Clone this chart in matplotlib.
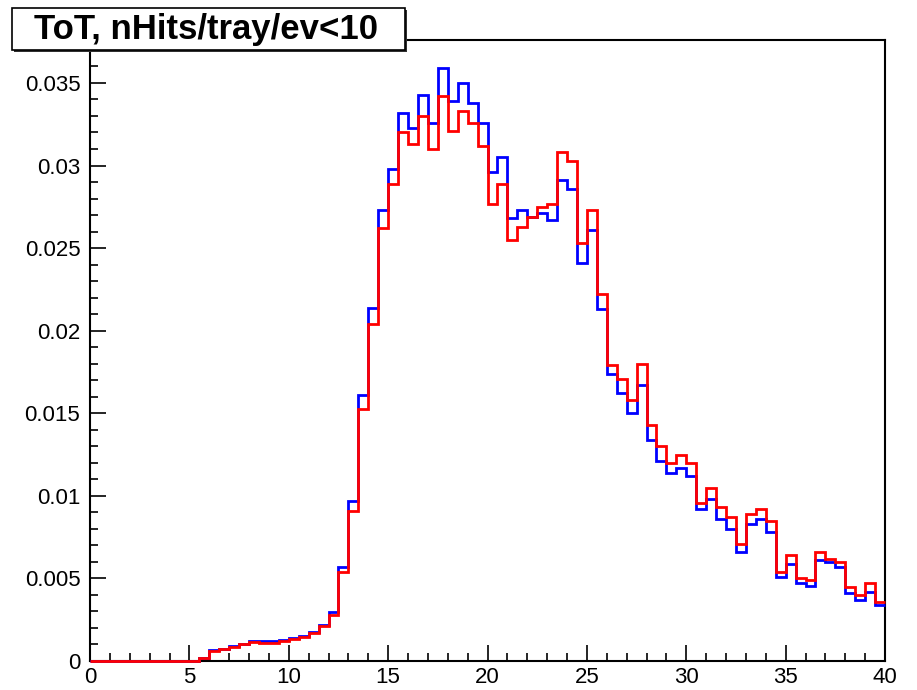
import numpy as np
import matplotlib
matplotlib.use("Agg")
import matplotlib.pyplot as plt
from matplotlib.patches import Rectangle

plt.rcParams['font.family'] = ['Liberation Sans', 'DejaVu Sans']

# bin edges: 80 bins of 0.5 from 0 to 40
edges = np.arange(0, 40.01, 0.5)

# blue histogram (normalised)
blue = [0, 0, 0, 0, 0, 0, 0, 0, 0, 0, 0,
        0.0002, 0.00065, 0.00072, 0.00092, 0.00105, 0.0012, 0.0012, 0.0012, 0.00127,
        0.00137, 0.0015, 0.00178, 0.0022, 0.00295, 0.00567, 0.0097, 0.0161, 0.0214,
        0.0273, 0.0298, 0.0332, 0.0323, 0.0343, 0.0326, 0.0359, 0.0339, 0.0350,
        0.0338, 0.0326, 0.0296, 0.0305, 0.0268, 0.0273, 0.0269, 0.0271, 0.0267,
        0.0291, 0.0286, 0.0241, 0.0261, 0.0213, 0.0174, 0.0162, 0.0150, 0.0167,
        0.0134, 0.0121, 0.0114, 0.0117, 0.0112, 0.0092, 0.0098, 0.0086, 0.0080,
        0.0066, 0.0083, 0.0086, 0.0078, 0.0051, 0.0059, 0.0047, 0.00454, 0.0061,
        0.0060, 0.0057, 0.0041, 0.0037, 0.0042, 0.0034]

# red histogram (normalised)
red = [0, 0, 0, 0, 0, 0, 0, 0, 0, 0, 0,
       0.00016, 0.00062, 0.0007, 0.00087, 0.001, 0.00113, 0.0011, 0.00112, 0.00119,
       0.00131, 0.00143, 0.0017, 0.0021, 0.00278, 0.00541, 0.0091, 0.01525, 0.0204,
       0.0262, 0.0289, 0.0320, 0.0313, 0.0330, 0.0310, 0.0342, 0.0321, 0.0333,
       0.0326, 0.0312, 0.0277, 0.0289, 0.0255, 0.0263, 0.0269, 0.0275, 0.0277,
       0.0308, 0.0303, 0.0253, 0.0273, 0.0222, 0.0179, 0.0171, 0.0158, 0.0180,
       0.0143, 0.0130, 0.0120, 0.0125, 0.0120, 0.00956, 0.0105, 0.0093, 0.0087,
       0.0071, 0.0089, 0.0092, 0.0085, 0.0054, 0.0064, 0.0050, 0.0049, 0.0066,
       0.0062, 0.0060, 0.0045, 0.0040, 0.0047, 0.0036]

title = 'ToT, nHits/tray/ev<10'

W, H = 917, 690
fig = plt.figure(figsize=(W / 100, H / 100), dpi=100)
ax = fig.add_axes([90 / W, (H - 661) / H, 795 / W, 621 / H])

ax.stairs(blue, edges, baseline=None, color='#0000ff', linewidth=2, zorder=6, clip_on=False)
ax.stairs(red, edges, baseline=None, color='#ff0000', linewidth=2, zorder=7, clip_on=False)

ax.set_xlim(0, 40)
ax.set_ylim(0, 0.0376)
ax.set_xticks(np.arange(0, 41, 5))
ax.set_xticks(np.arange(0, 41, 1), minor=True)
ax.set_yticks(np.arange(0, 0.0351, 0.005))
ax.set_yticks(np.arange(0, 0.0371, 0.001), minor=True)
ax.set_xticklabels([f'{v:g}' for v in np.arange(0, 41, 5)])
ax.set_yticklabels(['0'] + [f'{v:g}' for v in np.arange(0.005, 0.0351, 0.005)])

ax.tick_params(which='both', direction='in', top=False, right=False,
               labelsize=16, width=1.2, colors='black')
ax.tick_params(which='major', length=11.5)
ax.tick_params(which='minor', length=5.8)
ax.tick_params(axis='y', pad=7)
ax.tick_params(axis='x', pad=4)
for s in ax.spines.values():
    s.set_linewidth(1.5)
    s.set_zorder(5)

# title box with shadow (ROOT style)
shadow = Rectangle((14 / W, 1 - 52 / H), 393 / W, 42 / H, transform=fig.transFigure,
                   facecolor='#303030', edgecolor='none', zorder=5)
box = Rectangle((12 / W, 1 - 50 / H), 393 / W, 42 / H, transform=fig.transFigure,
                facecolor='white', edgecolor='black', linewidth=1.2, zorder=6)
fig.add_artist(shadow)
fig.add_artist(box)
fig.text(206 / W, 1 - 30 / H, title, ha='center', va='center', fontsize=25,
         fontweight='bold', zorder=7)

fig.savefig('out.png', dpi=100)
